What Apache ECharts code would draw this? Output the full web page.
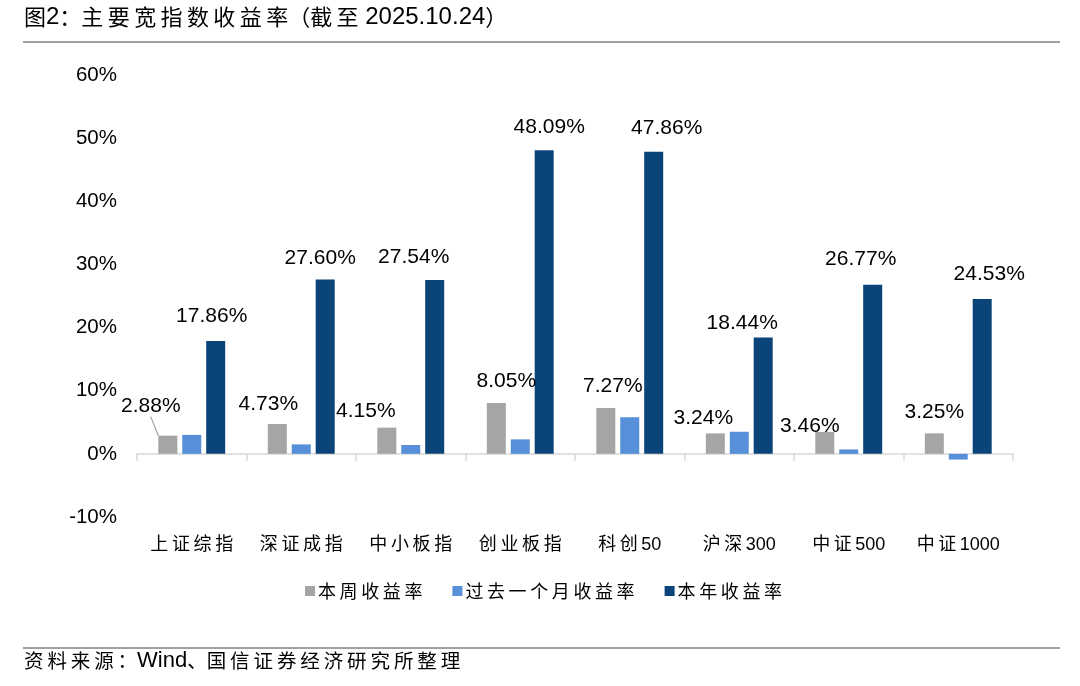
<!DOCTYPE html>
<html><head><meta charset="utf-8">
<script src="https://cdn.jsdelivr.net/npm/echarts@6/dist/echarts.min.js"></script>
<style>html,body{margin:0;padding:0;background:#fff}#c{width:1080px;height:686px}</style>
</head><body><div id="c"></div>
<script>
var categories = ['上证综指','深证成指','中小板指','创业板指','科创50','沪深300','中证500','中证1000'];
var weekly = [2.88, 4.73, 4.15, 8.05, 7.27, 3.24, 3.46, 3.25];
var monthly = [3.0, 1.5, 1.4, 2.3, 5.8, 3.5, 0.7, -0.9];
var yearly = [17.86, 27.60, 27.54, 48.09, 47.86, 18.44, 26.77, 24.53];
var seriesNames = ['本周收益率','过去一个月收益率','本年收益率'];
var yTicks = {min: -10, max: 60, interval: 10};

// label nudges (layout only)
var weeklyShift = [[-17,-14],[-9,-4],[-21,-1],[10,-6],[7,-6],[-12,0],[-15,10],[0,-6]];
var yearlyShift = [[-4,-9],[-5,-6],[-21,-7],[5,-8],[13,-8],[-21,1],[-12,-10],[7,-9]];

var CJK = '"Noto Sans CJK SC", sans-serif';
var MIX = '"Liberation Sans", "Noto Sans CJK SC", sans-serif';
var NUM = '"Liberation Sans", Arial, sans-serif';

// spread CJK characters a little (thin space between CJK glyphs)
function spread(s){
  var out = '';
  for (var i = 0; i < s.length; i++) {
    out += s[i];
    if (i < s.length - 1 && /[\u4e00-\u9fff]/.test(s[i])) out += '\u2009';
  }
  return out;
}

var chart = echarts.init(document.getElementById('c'));
function lbl(v){ return v.toFixed(2) + '%'; }
chart.setOption({
  animation: false,
  grid: {left: 137, right: 67, top: 75, bottom: 169},
  legend: {
    top: 577, left: 300, itemWidth: 10, itemHeight: 10, itemGap: 30,
    icon: 'rect',
    formatter: function(n){ return spread(n); },
    textStyle: {fontFamily: CJK, fontSize: 18, color: '#000', padding: [0,0,0,-2]},
    data: seriesNames
  },
  xAxis: {
    type: 'category', data: categories,
    axisLine: {onZero: true, lineStyle: {color: '#d9d9d9', width: 1.5}},
    axisTick: {show: true, length: 7, lineStyle: {color: '#d9d9d9', width: 1.5}},
    axisLabel: {margin: 19, fontFamily: MIX, fontSize: 18, color: '#000',
      formatter: function(v){ return spread(v); }}
  },
  yAxis: {
    type: 'value', min: yTicks.min, max: yTicks.max, interval: yTicks.interval,
    axisLine: {show: false}, axisTick: {show: false}, splitLine: {show: false},
    axisLabel: {formatter: '{value}%', fontFamily: NUM, fontSize: 20.5, color: '#000', margin: 20}
  },
  series: [
    {
      name: seriesNames[0], type: 'bar', barWidth: 19, barGap: '26%',
      itemStyle: {color: '#A5A5A5'},
      data: weekly.map(function(v,i){
        var d = {value: v};
        if (i === 0) d.labelLine = {show: true};
        return d;
      }),
      label: {show: true, position: 'top', distance: 5, formatter: function(p){return lbl(p.value);},
        fontFamily: NUM, fontSize: 21, color: '#000'},
      labelLine: {show: false, lineStyle: {color: '#A5A5A5', width: 1.2}},
      labelLayout: function(p){ var s = weeklyShift[p.dataIndex]; return {dx: s[0], dy: s[1]}; }
    },
    {
      name: seriesNames[1], type: 'bar', barWidth: 19,
      itemStyle: {color: '#5790D9'},
      data: monthly
    },
    {
      name: seriesNames[2], type: 'bar', barWidth: 19,
      itemStyle: {color: '#0A4478'},
      data: yearly,
      label: {show: true, position: 'top', distance: 5, formatter: function(p){return lbl(p.value);},
        fontFamily: NUM, fontSize: 21, color: '#000'},
      labelLayout: function(p){ var s = yearlyShift[p.dataIndex]; return {dx: s[0], dy: s[1]}; }
    }
  ],
  graphic: [
    {type: 'text', left: 24, top: 5, style: {
      text: '{c|图}{n|2}{c|：' + spread('主要宽指数收益率') + '（' + spread('截至') + '}{n| 2025.10.24}{c|）}',
      rich: {
        c: {fontFamily: CJK, fontSize: 22, fill: '#000', lineHeight: 28},
        n: {fontFamily: NUM, fontSize: 24, fill: '#000', lineHeight: 28}
      }
    }},
    {type: 'line', shape: {x1: 23, y1: 42, x2: 1060, y2: 42}, style: {stroke: '#808080', lineWidth: 1.5}},
    {type: 'line', shape: {x1: 23, y1: 648, x2: 1060, y2: 648}, style: {stroke: '#808080', lineWidth: 1.5}},
    {type: 'text', left: 24, top: 650, style: {
      text: '{c|' + spread('资料来源：') + '}{n|Wind}{c|、' + spread('国信证券经济研究所整理') + '}',
      rich: {
        c: {fontFamily: CJK, fontSize: 19.5, fill: '#000', lineHeight: 26},
        n: {fontFamily: NUM, fontSize: 22, fill: '#000', lineHeight: 26}
      }
    }}
  ]
});
</script></body></html>
